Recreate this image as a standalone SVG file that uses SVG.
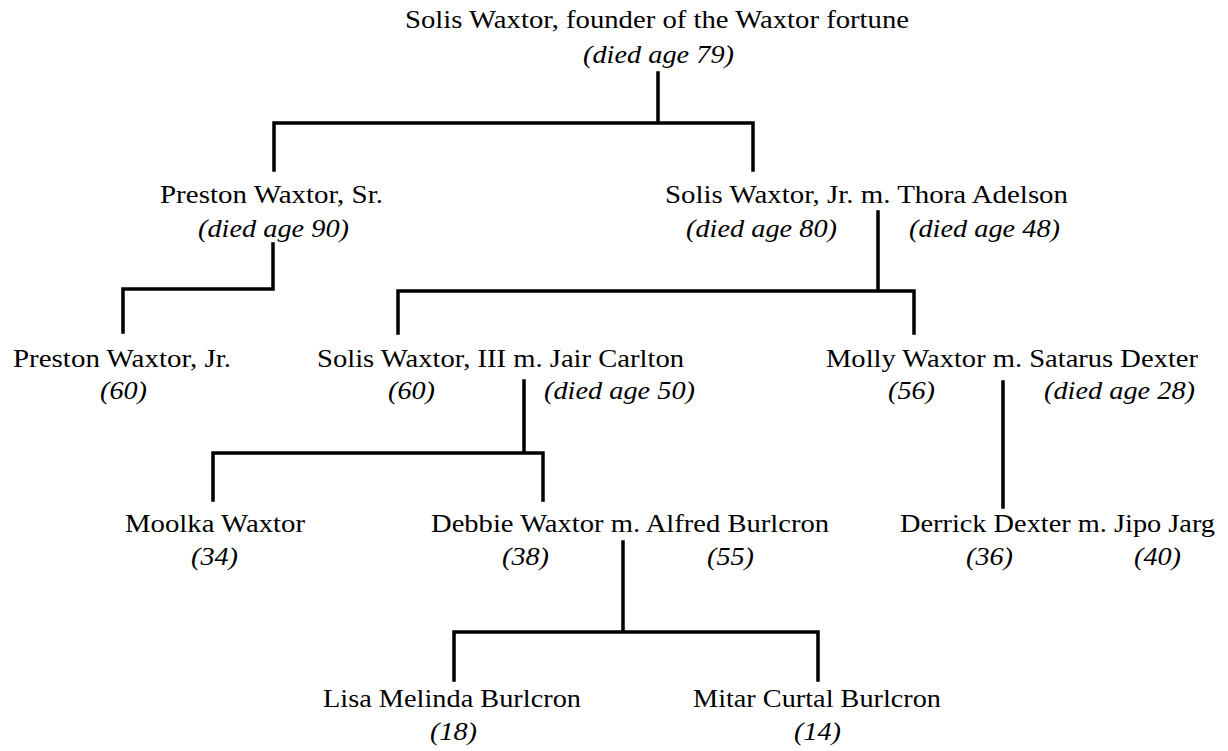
<svg xmlns="http://www.w3.org/2000/svg" width="1228" height="751" viewBox="0 0 1228 751">
<style>
text{font-family:"Liberation Serif","Times New Roman",serif;font-size:25px;fill:#000}
.a{font-style:italic}
.c{fill:none;stroke:#000;stroke-width:3.5;stroke-linecap:square;stroke-linejoin:miter}
</style>
<rect width="1228" height="751" fill="#fff"/>
<g id="connectors">
<path class="c" d="M658 73V123M274 170V123H753V170"/>
<path class="c" d="M273 244V289H123V332"/>
<path class="c" d="M878 212V291M398 333V291H914V333"/>
<path class="c" d="M524 381V453M213 500V453H543V500"/>
<path class="c" d="M1003 382V507"/>
<path class="c" d="M623 542V632M454 680V632H818V680"/>
</g>
<g id="solis-founder">
<text x="405" y="28" textLength="504" lengthAdjust="spacingAndGlyphs">Solis Waxtor, founder of the Waxtor fortune</text>
<text class="a" x="583" y="63" textLength="151" lengthAdjust="spacingAndGlyphs">(died age 79)</text>
</g>
<g id="preston-sr">
<text x="160" y="203" textLength="223" lengthAdjust="spacingAndGlyphs">Preston Waxtor, Sr.</text>
<text class="a" x="198" y="237" textLength="151" lengthAdjust="spacingAndGlyphs">(died age 90)</text>
</g>
<g id="solis-jr">
<text x="665" y="203" textLength="403" lengthAdjust="spacingAndGlyphs">Solis Waxtor, Jr. m. Thora Adelson</text>
<text class="a" x="686" y="237" textLength="151" lengthAdjust="spacingAndGlyphs">(died age 80)</text>
<text class="a" x="909" y="237" textLength="151" lengthAdjust="spacingAndGlyphs">(died age 48)</text>
</g>
<g id="preston-jr">
<text x="13" y="367" textLength="218" lengthAdjust="spacingAndGlyphs">Preston Waxtor, Jr.</text>
<text class="a" x="100" y="399" textLength="47" lengthAdjust="spacingAndGlyphs">(60)</text>
</g>
<g id="solis-iii">
<text x="317" y="367" textLength="367" lengthAdjust="spacingAndGlyphs">Solis Waxtor, III m. Jair Carlton</text>
<text class="a" x="388" y="399" textLength="47" lengthAdjust="spacingAndGlyphs">(60)</text>
<text class="a" x="544" y="399" textLength="151" lengthAdjust="spacingAndGlyphs">(died age 50)</text>
</g>
<g id="molly">
<text x="826" y="367" textLength="372" lengthAdjust="spacingAndGlyphs">Molly Waxtor m. Satarus Dexter</text>
<text class="a" x="888" y="399" textLength="47" lengthAdjust="spacingAndGlyphs">(56)</text>
<text class="a" x="1044" y="399" textLength="151" lengthAdjust="spacingAndGlyphs">(died age 28)</text>
</g>
<g id="moolka">
<text x="125" y="532" textLength="180" lengthAdjust="spacingAndGlyphs">Moolka Waxtor</text>
<text class="a" x="191" y="565" textLength="47" lengthAdjust="spacingAndGlyphs">(34)</text>
</g>
<g id="debbie">
<text x="431" y="532" textLength="398" lengthAdjust="spacingAndGlyphs">Debbie Waxtor m. Alfred Burlcron</text>
<text class="a" x="502" y="565" textLength="47" lengthAdjust="spacingAndGlyphs">(38)</text>
<text class="a" x="707" y="565" textLength="47" lengthAdjust="spacingAndGlyphs">(55)</text>
</g>
<g id="derrick">
<text x="900" y="532" textLength="315" lengthAdjust="spacingAndGlyphs">Derrick Dexter m. Jipo Jarg</text>
<text class="a" x="966" y="565" textLength="47" lengthAdjust="spacingAndGlyphs">(36)</text>
<text class="a" x="1134" y="565" textLength="47" lengthAdjust="spacingAndGlyphs">(40)</text>
</g>
<g id="lisa">
<text x="323" y="707" textLength="258" lengthAdjust="spacingAndGlyphs">Lisa Melinda Burlcron</text>
<text class="a" x="430" y="740" textLength="47" lengthAdjust="spacingAndGlyphs">(18)</text>
</g>
<g id="mitar">
<text x="693" y="707" textLength="248" lengthAdjust="spacingAndGlyphs">Mitar Curtal Burlcron</text>
<text class="a" x="794" y="740" textLength="47" lengthAdjust="spacingAndGlyphs">(14)</text>
</g>
</svg>
